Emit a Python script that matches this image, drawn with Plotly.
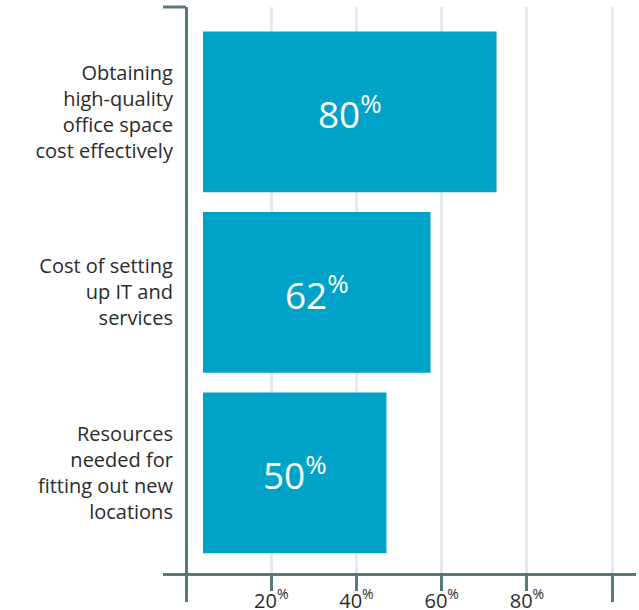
import plotly.graph_objects as go

categories = [
    "Obtaining<br>high-quality<br>office space<br>cost effectively",
    "Cost of setting<br>up IT and<br>services",
    "Resources<br>needed for<br>fitting out new<br>locations",
]
values = [80, 62, 50]
tick_values = [20, 40, 60, 80, 100]
tick_labels = ["20<sup>%</sup>", "40<sup>%</sup>", "60<sup>%</sup>", "80<sup>%</sup>", ""]

BAR = "#00a3c8"
AXIS = "#557a7b"
GRID = "#e3ebee"
TEXT = "#2b2b2b"
FONT = "Open Sans"

fig = go.Figure()
fig.add_trace(go.Bar(
    y=categories,
    x=values,
    orientation="h",
    xaxis="x2",
    marker=dict(color=BAR, line=dict(width=0)),
    width=0.89,
    text=[f"{v}<sup>%</sup>" for v in values],
    textposition="inside",
    insidetextanchor="middle",
    textfont=dict(family=FONT, size=37, color="white"),
    hoverinfo="skip",
))

fig.update_layout(
    width=639,
    height=610,
    autosize=False,
    margin=dict(l=163, r=3, t=7, b=37, autoexpand=False),
    paper_bgcolor="white",
    plot_bgcolor="white",
    showlegend=False,
    font=dict(family=FONT, color=TEXT),
    xaxis=dict(
        range=[-5.4, 105.6],
        tickmode="array",
        tickvals=tick_values,
        ticktext=tick_labels,
        tickfont=dict(size=20, color=TEXT),
        ticks="outside",
        ticklen=15,
        tickwidth=3,
        tickcolor=AXIS,
        ticklabelstandoff=-7,
        showgrid=True,
        gridcolor=GRID,
        gridwidth=3,
        zeroline=True,
        zerolinecolor=AXIS,
        zerolinewidth=3,
        showline=True,
        linecolor=AXIS,
        linewidth=2.5,
        automargin=False,
        minor=dict(tickmode="array", tickvals=[0, 100], ticks="outside",
                   ticklen=26, tickwidth=3, tickcolor=AXIS, showgrid=False),
        fixedrange=True,
    ),
    xaxis2=dict(
        overlaying="x",
        range=[-10.9, 118.0],
        visible=False,
        fixedrange=True,
    ),
    yaxis=dict(
        type="category",
        categoryorder="array",
        categoryarray=categories,
        range=[2.555, -0.581],
        anchor="free",
        position=0.021,
        showline=False,
        showgrid=False,
        zeroline=False,
        ticks="",
        automargin=False,
        tickfont=dict(size=20, color=TEXT),
        fixedrange=True,
    ),
    shapes=[
        dict(type="line", xref="x", yref="paper", x0=-5.4, x1=0, y0=1, y1=1,
             line=dict(color=AXIS, width=3)),
    ],
)

fig.write_html(
    "out.html",
    config={"displayModeBar": False},
    post_script="document.body.style.margin='0';document.body.style.padding='0';",
)
